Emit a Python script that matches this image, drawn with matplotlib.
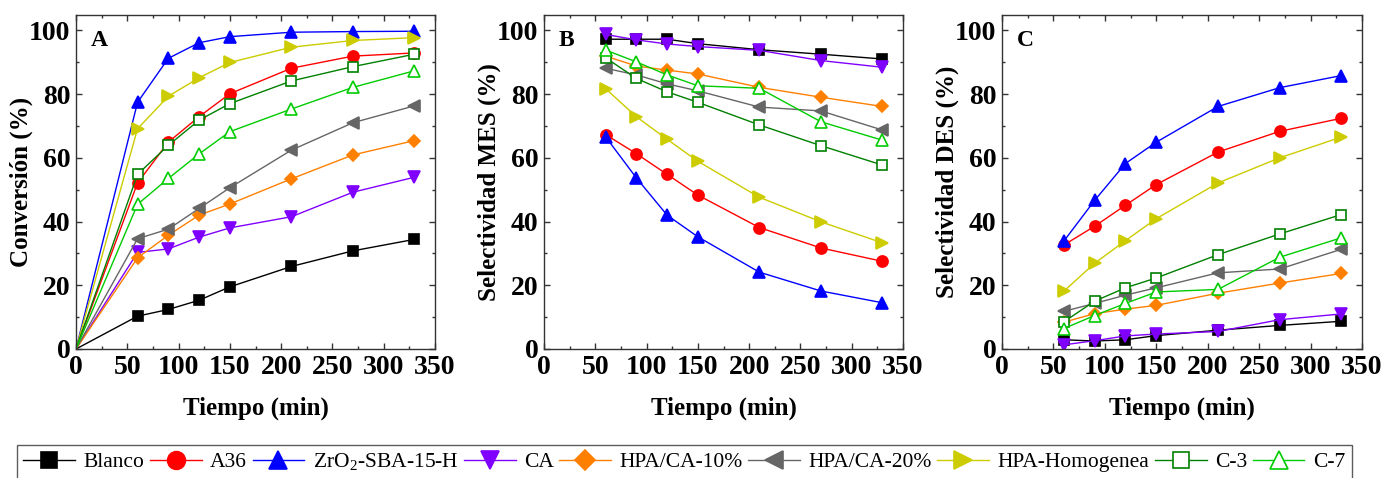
import matplotlib
matplotlib.use("Agg")
import matplotlib.pyplot as plt
from matplotlib.ticker import MultipleLocator

plt.rcParams['font.family'] = ['Liberation Serif', 'DejaVu Serif']
plt.rcParams['mathtext.fontset'] = 'custom'
plt.rcParams['mathtext.rm'] = 'Liberation Serif'

# ---- data ----
series = ["Blanco", "A36", "ZrO$_2$-SBA-15-H", "CA", "HPA/CA-10%",
          "HPA/CA-20%", "HPA-Homogenea", "C-3", "C-7"]
time_A = [0, 60, 90, 120, 150, 210, 270, 330]
time_BC = [60, 90, 120, 150, 210, 270, 330]

conv_blanco = [0, 10.3, 12.4, 15.3, 19.5, 25.9, 30.8, 34.4]
conv_a36 = [0, 52.1, 64.9, 72.9, 80.1, 88.1, 91.9, 92.9]
conv_zro2 = [0, 77.4, 91.2, 96.1, 98.0, 99.4, 99.6, 99.7]
conv_ca = [0, 30.3, 31.4, 35.1, 38.0, 41.5, 49.2, 53.9]
conv_hpa10 = [0, 28.6, 35.7, 42.0, 45.5, 53.4, 60.9, 65.4]
conv_hpa20 = [0, 34.6, 37.6, 44.1, 50.6, 62.4, 71.0, 76.3]
conv_hom = [0, 69.1, 79.3, 85.1, 89.9, 94.7, 96.8, 97.7]
conv_c3 = [0, 54.8, 63.9, 71.8, 77.0, 84.1, 88.6, 92.5]
conv_c7 = [0, 45.4, 53.5, 61.2, 68.2, 75.3, 82.1, 87.3]

mes_blanco = [97.2, 97.2, 97.2, 95.8, 93.9, 92.5, 91.0]
mes_a36 = [67.3, 61.3, 54.8, 48.3, 38.1, 31.7, 27.5]
mes_zro2 = [66.6, 53.7, 42.0, 35.2, 24.1, 18.2, 14.5]
mes_ca = [98.7, 97.0, 95.7, 94.9, 93.7, 90.5, 88.4]
mes_hpa10 = [91.9, 88.8, 87.5, 86.3, 82.1, 79.0, 76.1]
mes_hpa20 = [88.1, 86.0, 83.2, 81.0, 75.9, 74.7, 68.7]
mes_hom = [81.7, 72.9, 65.8, 58.9, 47.6, 39.9, 33.3]
mes_c3 = [91.4, 84.9, 80.7, 77.4, 70.3, 63.8, 57.7]
mes_c7 = [93.8, 90.1, 86.0, 82.6, 81.8, 71.3, 65.5]

des_blanco = [2.9, 2.5, 2.9, 4.2, 5.9, 7.4, 8.7]
des_a36 = [32.6, 38.5, 45.1, 51.6, 61.8, 68.3, 72.4]
des_zro2 = [33.8, 46.6, 58.2, 64.9, 76.1, 82.0, 85.8]
des_ca = [1.3, 2.6, 4.1, 4.7, 5.5, 9.2, 11.0]
des_hpa10 = [8.4, 11.1, 12.5, 13.7, 17.5, 20.7, 23.7]
des_hpa20 = [11.8, 14.3, 16.9, 19.2, 23.9, 25.1, 31.3]
des_hom = [18.1, 26.9, 34.0, 40.9, 52.1, 60.0, 66.5]
des_c3 = [8.5, 15.0, 19.2, 22.3, 29.6, 36.1, 42.2]
des_c7 = [6.4, 10.5, 14.3, 17.9, 18.7, 28.8, 34.9]

conv = [conv_blanco, conv_a36, conv_zro2, conv_ca, conv_hpa10, conv_hpa20, conv_hom, conv_c3, conv_c7]
mes = [mes_blanco, mes_a36, mes_zro2, mes_ca, mes_hpa10, mes_hpa20, mes_hom, mes_c3, mes_c7]
des = [des_blanco, des_a36, des_zro2, des_ca, des_hpa10, des_hpa20, des_hom, des_c3, des_c7]

# ---- styles ----
colors = ['#000000', '#FF0000', '#0000FF', '#8000FF', '#FF8000',
          '#666666', '#CCCC00', '#008000', '#00CC00']
markers = ['s', 'o', '^', 'v', 'D', '<', '>', 's', '^']
msizes = [7, 8, 8.5, 8.5, 6.5, 8.5, 8.5, 7, 8.5]
filled = [True] * 7 + [False, False]

fig = plt.figure(figsize=(13.82, 4.78), dpi=100)
W, H = 1382, 478
boxes = [(76, 435), (544, 903), (1002, 1362)]
top_px, bot_px = 15, 349
axes = []
for (l, r) in boxes:
    ax = fig.add_axes([l / W, 1 - bot_px / H, (r - l) / W, (bot_px - top_px) / H])
    axes.append(ax)

panels = [(time_A, conv, "Conversión (%)", "A"),
          (time_BC, mes, "Selectividad MES (%)", "B"),
          (time_BC, des, "Selectividad DES (%)", "C")]

handles = []
for pi, (ax, (t, data, ylabel, letter)) in enumerate(zip(axes, panels)):
    for i in range(len(series)):
        kw = dict(color=colors[i], marker=markers[i], ms=msizes[i], lw=1.0,
                  mec=colors[i], mew=1.2,
                  mfc=colors[i] if filled[i] else 'white', label=series[i])
        if pi == 0:
            kw['markevery'] = slice(1, None)
        ln, = ax.plot(t, data[i], **kw)
        if pi == 0:
            handles.append(ln)
    ax.set_xlim(0, 350)
    ax.set_ylim(0, 104.8)
    ax.xaxis.set_major_locator(MultipleLocator(50))
    ax.xaxis.set_minor_locator(MultipleLocator(25))
    ax.yaxis.set_major_locator(MultipleLocator(20))
    ax.yaxis.set_minor_locator(MultipleLocator(10))
    ax.tick_params(which='both', direction='in', top=True, right=True,
                   color='#333333', width=1.0)
    ax.tick_params(which='major', length=4, labelsize=20, pad=4)
    ax.tick_params(which='minor', length=2.5)
    plt.setp(ax.get_xticklabels() + ax.get_yticklabels(), fontweight='bold')
    for sp in ax.spines.values():
        sp.set_color('#333333')
        sp.set_linewidth(1.0)
    ax.set_xlabel("Tiempo (min)", fontsize=18, fontweight='bold', labelpad=12)
    ax.set_ylabel(ylabel, fontsize=18, fontweight='bold', labelpad=-3)
    ax.text(0.04, 0.955, letter, transform=ax.transAxes, fontsize=17,
            fontweight='bold', va='top', ha='left')

leg = fig.legend(handles=handles, loc='upper left',
                 bbox_to_anchor=(17 / W, 1 - 445 / H), ncol=9,
                 fontsize=15.5, frameon=True, fancybox=False,
                 edgecolor='#333333', markerscale=1.6,
                 handlelength=2.4, handletextpad=0.4, columnspacing=0.25,
                 borderpad=0.3, borderaxespad=0)
leg.get_frame().set_linewidth(1.0)

fig.savefig("out.png", dpi=100)
